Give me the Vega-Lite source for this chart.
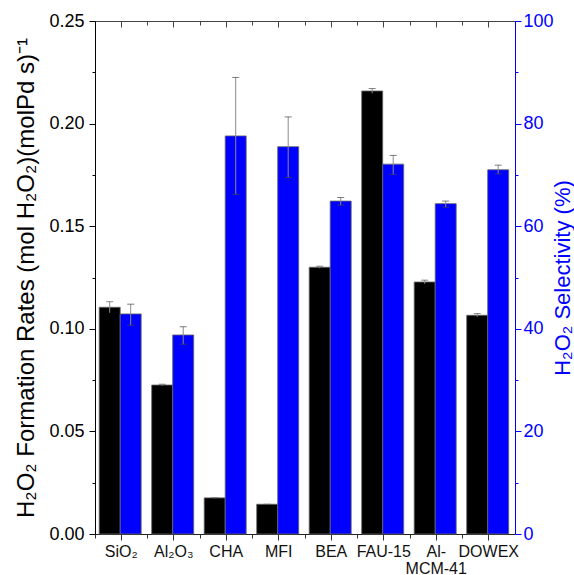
{
  "$schema": "https://vega.github.io/schema/vega-lite/v6.json",
  "autosize": "none",
  "padding": {"left": 95, "top": 21, "right": 59, "bottom": 41},
  "width": 420,
  "height": 513,
  "config": {
    "view": {"stroke": null},
    "font": "Liberation Sans",
    "axis": {"labelFont": "Liberation Sans", "titleFont": "Liberation Sans", "titleFontWeight": "normal", "grid": false}
  },
  "data": {
    "values": [
      {"cat": "SiO₂", "series": "rate", "value": 0.1105, "lo": 0.1078, "hi": 0.1132},
      {"cat": "SiO₂", "series": "sel", "value": 42.9, "lo": 40.7, "hi": 44.8},
      {"cat": "Al₂O₃", "series": "rate", "value": 0.0726, "lo": 0.0722, "hi": 0.0730},
      {"cat": "Al₂O₃", "series": "sel", "value": 38.8, "lo": 37.0, "hi": 40.4},
      {"cat": "CHA", "series": "rate", "value": 0.0176, "lo": 0.0176, "hi": 0.0176},
      {"cat": "CHA", "series": "sel", "value": 77.6, "lo": 66.2, "hi": 89.0},
      {"cat": "MFI", "series": "rate", "value": 0.0145, "lo": 0.0145, "hi": 0.0145},
      {"cat": "MFI", "series": "sel", "value": 75.5, "lo": 69.5, "hi": 81.3},
      {"cat": "BEA", "series": "rate", "value": 0.1300, "lo": 0.1295, "hi": 0.1305},
      {"cat": "BEA", "series": "sel", "value": 64.9, "lo": 64.1, "hi": 65.6},
      {"cat": "FAU-15", "series": "rate", "value": 0.2159, "lo": 0.2147, "hi": 0.2171},
      {"cat": "FAU-15", "series": "sel", "value": 72.1, "lo": 70.1, "hi": 73.8},
      {"cat": "Al-MCM-41", "series": "rate", "value": 0.1228, "lo": 0.1219, "hi": 0.1237},
      {"cat": "Al-MCM-41", "series": "sel", "value": 64.4, "lo": 63.7, "hi": 64.9},
      {"cat": "DOWEX", "series": "rate", "value": 0.1066, "lo": 0.1058, "hi": 0.1074},
      {"cat": "DOWEX", "series": "sel", "value": 71.0, "lo": 70.2, "hi": 71.9}
    ]
  },
  "resolve": {"scale": {"x": "independent", "y": "independent"}, "axis": {"x": "independent", "y": "independent"}},
  "layer": [
    {
      "transform": [{"filter": "datum.series == 'rate'"}],
      "mark": {"type": "bar", "color": "#000000", "stroke": "#666666", "strokeWidth": 0.8},
      "encoding": {
        "x": {"field": "cat", "type": "nominal", "sort": null,
          "scale": {"type": "band", "domain": ["SiO₂", "Al₂O₃", "CHA", "MFI", "BEA", "FAU-15", "Al-MCM-41", "DOWEX"], "paddingInner": 0, "paddingOuter": 0},
          "axis": {"orient": "bottom", "title": null, "labelAngle": 0, "labelFontSize": 16, "labelColor": "#111111", "tickSize": 6, "tickColor": "#333333", "domainColor": "#222222", "labelPadding": 3, "labelLineHeight": 17,
            "labelExpr": "datum.value == 'Al-MCM-41' ? ['Al-', 'MCM-41'] : datum.value"}},
        "xOffset": {"field": "series", "type": "nominal", "scale": {"domain": ["rate", "sel"], "paddingInner": 0, "paddingOuter": 0.25, "align": 0.4}},
        "y": {"field": "value", "type": "quantitative",
          "scale": {"domain": [0, 0.25], "nice": false, "zero": true},
          "axis": {"orient": "left", "title": "H₂O₂ Formation Rates (mol H₂O₂)(molPd s)⁻¹", "titleFontSize": 24, "titleColor": "#000000", "titlePadding": 10,
            "values": [0, 0.025, 0.05, 0.075, 0.1, 0.125, 0.15, 0.175, 0.2, 0.225, 0.25],
            "labelExpr": "round(datum.value*1000) % 50 == 0 ? format(datum.value, '.2f') : ''",
            "labelFontSize": 18, "labelColor": "#000000", "labelPadding": 5,
            "tickSize": {"condition": {"test": "round(datum.value*1000) % 50 == 0", "value": 6}, "value": 3},
            "tickColor": "#000000", "domainColor": "#000000",
            "grid": true, "gridColor": "#444444", "gridWidth": 1.2,
            "gridOpacity": {"condition": {"test": "datum.value > 0.24", "value": 1}, "value": 0}}}
      }
    },
    {
      "transform": [{"filter": "datum.series == 'sel'"}],
      "mark": {"type": "bar", "color": "#0000ff", "stroke": "#666666", "strokeWidth": 0.8},
      "encoding": {
        "x": {"field": "cat", "type": "nominal", "sort": null,
          "scale": {"type": "band", "domain": ["SiO₂", "Al₂O₃", "CHA", "MFI", "BEA", "FAU-15", "Al-MCM-41", "DOWEX"], "paddingInner": 0, "paddingOuter": 0},
          "axis": {"orient": "top", "title": null, "labels": false, "tickSize": -6, "tickColor": "#444444", "domainColor": "#444444"}},
        "xOffset": {"field": "series", "type": "nominal", "scale": {"domain": ["rate", "sel"], "paddingInner": 0, "paddingOuter": 0.25, "align": 0.4}},
        "y": {"field": "value", "type": "quantitative",
          "scale": {"domain": [0, 100], "nice": false, "zero": true},
          "axis": {"orient": "right", "title": "H₂O₂ Selectivity (%)", "titleFontSize": 22, "titleColor": "#0000ff", "titleAngle": 270, "titleBaseline": "top", "titlePadding": -1,
            "values": [0, 10, 20, 30, 40, 50, 60, 70, 80, 90, 100],
            "labelExpr": "datum.value % 20 == 0 ? datum.label : ''",
            "labelFontSize": 18, "labelColor": "#0000ff", "labelPadding": 2,
            "tickSize": {"condition": {"test": "datum.value % 20 == 0", "value": 6}, "value": 3},
            "tickColor": "#0000ff", "domainColor": "#0000ff"}}
      }
    },
    {
      "transform": [{"filter": "datum.series == 'rate'"}],
      "mark": {"type": "rule", "color": "#8a8a8a", "strokeWidth": 1},
      "encoding": {
        "x": {"field": "cat", "type": "nominal", "sort": null,
          "scale": {"type": "band", "domain": ["SiO₂", "Al₂O₃", "CHA", "MFI", "BEA", "FAU-15", "Al-MCM-41", "DOWEX"], "paddingInner": 0, "paddingOuter": 0},
          "axis": {"orient": "bottom", "title": null, "labels": false, "bandPosition": 0, "tickSize": 4, "tickColor": "#333333", "domain": false}},
        "xOffset": {"field": "series", "type": "nominal", "scale": {"domain": ["rate", "sel"], "paddingInner": 0, "paddingOuter": 0.25, "align": 0.4}},
        "y": {"field": "lo", "type": "quantitative", "scale": {"domain": [0, 0.25], "nice": false}, "axis": null},
        "y2": {"field": "hi"}
      }
    },
    {
      "transform": [{"filter": "datum.series == 'sel'"}],
      "mark": {"type": "rule", "color": "#8a8a8a", "strokeWidth": 1},
      "encoding": {
        "x": {"field": "cat", "type": "nominal", "sort": null,
          "scale": {"type": "band", "domain": ["SiO₂", "Al₂O₃", "CHA", "MFI", "BEA", "FAU-15", "Al-MCM-41", "DOWEX"], "paddingInner": 0, "paddingOuter": 0},
          "axis": {"orient": "top", "title": null, "labels": false, "bandPosition": 0, "tickSize": -4, "tickColor": "#444444", "domain": false}},
        "xOffset": {"field": "series", "type": "nominal", "scale": {"domain": ["rate", "sel"], "paddingInner": 0, "paddingOuter": 0.25, "align": 0.4}},
        "y": {"field": "lo", "type": "quantitative", "scale": {"domain": [0, 100], "nice": false}, "axis": null},
        "y2": {"field": "hi"}
      }
    },
    {
      "transform": [{"filter": "datum.series == 'rate'"}],
      "mark": {"type": "tick", "color": "#555555", "size": 7, "thickness": 1},
      "encoding": {
        "x": {"field": "cat", "type": "nominal", "sort": null,
          "scale": {"type": "band", "domain": ["SiO₂", "Al₂O₃", "CHA", "MFI", "BEA", "FAU-15", "Al-MCM-41", "DOWEX"], "paddingInner": 0, "paddingOuter": 0},
          "axis": null},
        "xOffset": {"field": "series", "type": "nominal", "scale": {"domain": ["rate", "sel"], "paddingInner": 0, "paddingOuter": 0.25, "align": 0.4}},
        "y": {"field": "hi", "type": "quantitative", "scale": {"domain": [0, 0.25], "nice": false}, "axis": null}
      }
    },
    {
      "transform": [{"filter": "datum.series == 'sel'"}, {"fold": ["lo", "hi"], "as": ["end", "endval"]}],
      "mark": {"type": "tick", "color": "#444444", "size": 7, "thickness": 1},
      "encoding": {
        "x": {"field": "cat", "type": "nominal", "sort": null,
          "scale": {"type": "band", "domain": ["SiO₂", "Al₂O₃", "CHA", "MFI", "BEA", "FAU-15", "Al-MCM-41", "DOWEX"], "paddingInner": 0, "paddingOuter": 0},
          "axis": null},
        "xOffset": {"field": "series", "type": "nominal", "scale": {"domain": ["rate", "sel"], "paddingInner": 0, "paddingOuter": 0.25, "align": 0.4}},
        "y": {"field": "endval", "type": "quantitative", "scale": {"domain": [0, 100], "nice": false}, "axis": null}
      }
    }
  ]
}
